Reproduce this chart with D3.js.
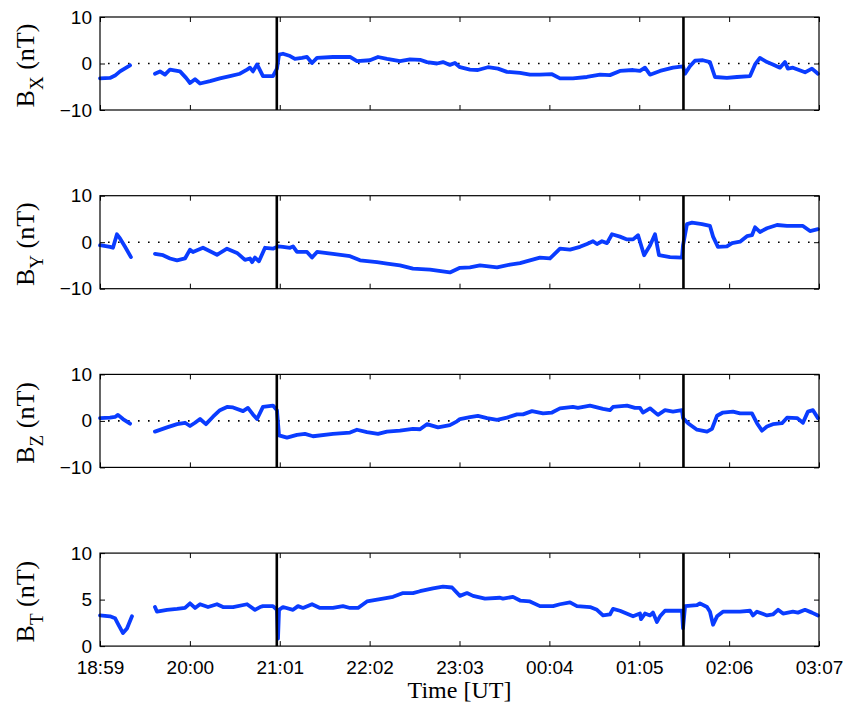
<!DOCTYPE html>
<html>
<head>
<meta charset="utf-8">
<script src="https://cdn.jsdelivr.net/npm/d3@7"></script>
<style>
body { margin: 0; background: #fff; }
</style>
</head>
<body>
<svg id="chart"></svg>
<script>
// time ticks (UT), start of the interval is 18:59
const tickLabels = ["18:59", "20:00", "21:01", "22:02", "23:03", "00:04", "01:05", "02:06", "03:07"];
// boundaries marked with vertical lines
const eventTimes = ["20:59", "01:35"];

// [minutes after 18:59, nT], null marks the data gap
const bxData = [
  [0,-3.2],[6.8,-3.1],[10.2,-2.6],[13.6,-1.7],[20.4,-0.4],[28,null],
  [37.3,-2.2],[40.7,-1.7],[44.1,-2.4],[47.5,-1.3],[54.3,-1.7],[58.4,-3.1],[61.1,-4.2],[64.5,-3.4],
  [67.9,-4.3],[74.7,-3.8],[81.4,-3.2],[88.2,-2.7],[95,-2.2],[99.8,-1.3],[101.8,-0.9],[103.8,-1.7],
  [106.6,-0.2],[110.6,-2.7],[117.4,-2.7],[120.1,-1.1],[121.5,1.9],[124.2,2.1],[129,1.6],[132.3,1.0],
  [137.1,1.2],[140.5,1.4],[143.9,0.1],[147.3,1.2],[158.1,1.4],[169.7,1.4],[174.4,0.5],[183.2,0.7],
  [188.7,1.4],[194.8,1.0],[203.6,0.5],[210.4,0.9],[217.2,0.8],[221.9,0.3],[228.7,0.0],[232.8,0.3],
  [237.5,-0.3],[240.9,0.1],[244.3,-0.8],[251.1,-1.3],[256.5,-1.4],[263.3,-0.8],[270.1,-1.1],
  [276.2,-1.8],[285.1,-2.0],[291.8,-2.4],[298.6,-2.4],[306.8,-2.3],[312.2,-3.2],[321,-3.2],
  [330.5,-2.9],[339.4,-2.4],[346.1,-2.5],[352.9,-1.6],[361.8,-1.4],[366.5,-1.6],[369.9,-0.9],
  [373.3,-2.4],[380.1,-1.6],[388.9,-0.9],[395.7,-0.6],[397.1,-2.2],[400.4,-0.6],[403.8,0.6],
  [409.2,0.7],[414,0.3],[417.4,-2.9],[425.5,-3.1],[432.3,-2.9],[441.2,-2.7],[444.6,-0.2],[447.9,1.2],
  [452.7,0.3],[456.7,-0.2],[461.5,-0.9],[464.9,0.3],[466.9,-1.1],[470.3,-0.9],[478.5,-1.9],
  [483.2,-1.1],[487.3,-2.2]
];

const byData = [
  [0,-0.65],[6.8,-1.0],[8.8,-1.2],[11.5,1.7],[13.6,0.8],[17,-1.0],[21,-3.2],[28,null],
  [37.3,-2.5],[42.8,-2.8],[47.5,-3.5],[52.3,-3.9],[57.7,-3.5],[61.1,-1.6],[63.1,-2.1],[69.9,-1.2],
  [79.4,-2.7],[86.2,-1.4],[93,-2.3],[98.4,-3.8],[101.8,-3.5],[103.2,-4.3],[105.2,-3.3],[107.9,-4.1],
  [112,-1.2],[117.4,-1.4],[120.8,-0.9],[124.2,-1.0],[129,-1.2],[131,-0.9],[133.7,-2.1],[140.5,-2.1],
  [143.9,-3.3],[147.3,-2.1],[158.1,-2.5],[169.7,-3.0],[176.5,-3.9],[188,-4.3],[194.8,-4.6],
  [203.6,-5.0],[212.4,-5.7],[224,-5.9],[237.5,-6.5],[244.3,-5.5],[251.1,-5.4],[257.9,-5.0],
  [269.5,-5.4],[278.3,-4.8],[285.1,-4.5],[291.8,-3.9],[298.6,-3.3],[305.4,-3.5],[312.2,-1.4],
  [319,-1.6],[325.8,-1.0],[330.5,-0.4],[334.6,0.2],[337.3,-0.4],[340.7,0.2],[344.1,-0.2],
  [347.5,1.7],[352.9,1.2],[357.7,0.6],[361.8,0.6],[365.2,1.5],[369.3,-2.8],[373.3,-0.7],
  [376.7,1.7],[379.4,-2.8],[386.9,-3.2],[395,-3.3],[395.7,-0.7],[398.4,3.9],[401.8,4.2],
  [408.6,3.9],[414,3.5],[416.1,1.2],[419.4,-1.0],[425.5,-0.9],[429,-0.2],[434.4,0.1],[439.1,1.3],
  [442.5,1.5],[444.6,3.2],[447.9,2.2],[452.7,3.0],[459.5,3.7],[466.3,3.5],[477.1,3.5],[481.9,2.4],
  [487.3,2.8]
];

const bzData = [
  [0,0.6],[6.8,0.7],[10.2,0.85],[12.2,1.3],[15.6,0.4],[20.4,-0.6],[28,null],
  [37.3,-2.3],[45.5,-1.4],[52.3,-0.7],[57.7,-0.4],[61.1,-1.1],[64.5,-0.4],[67.9,0.4],[71.9,-0.7],
  [76.7,0.9],[81.4,2.3],[86.2,3.0],[90.3,2.9],[97.1,2.1],[100.4,2.8],[103.8,1.4],[106.6,0.4],
  [110.6,3.0],[117.4,3.3],[120.1,2.3],[121.5,-3.1],[126.9,-3.6],[133.7,-3.0],[139.1,-2.8],
  [144.6,-3.3],[158.1,-2.8],[169.7,-2.5],[174.4,-1.9],[181.2,-2.4],[188.7,-2.8],[194.8,-2.3],
  [203.6,-2.1],[212.4,-1.7],[217.2,-1.8],[221.9,-0.7],[229.4,-1.4],[237.5,-0.9],[242.3,-0.1],
  [244.3,0.4],[251.1,0.8],[256.5,1.1],[262.7,0.6],[269.5,0.2],[276.2,0.7],[283,1.4],[287.1,1.4],
  [293.2,2.1],[300.7,1.6],[306.8,1.8],[312.2,2.7],[321,3.0],[324.4,2.8],[332.6,3.3],[341.4,2.6],
  [346.1,2.3],[348.2,3.0],[357.7,3.3],[363.1,2.8],[366.5,2.8],[368.5,1.8],[373.3,2.7],[378.7,1.3],
  [383.5,2.3],[388.9,2.0],[395,2.3],[395.7,0.6],[399.1,-0.5],[405.2,-1.9],[412,-2.3],[415.4,-1.7],
  [418.8,1.1],[422.8,1.8],[429.6,2.0],[434.4,1.6],[442.5,1.6],[445.9,-0.5],[449.3,-2.1],
  [452.7,-1.2],[456.7,-0.7],[462.9,-0.5],[466.3,0.7],[473.1,0.6],[477.1,-0.4],[480.5,2.0],
  [483.9,2.3],[487.3,0.6]
];

const btData = [
  [0,3.3],[6.8,3.2],[10.2,3.0],[12.2,2.4],[15.6,1.4],[18.3,1.9],[21.7,3.2],[28,null],
  [37.3,4.2],[38.7,3.7],[45.5,3.9],[52.3,4.0],[57.7,4.1],[61.1,4.6],[64.5,4.1],[67.9,4.5],
  [73.3,4.2],[79.4,4.5],[83.5,4.2],[90.3,4.2],[99.8,4.5],[105.2,3.9],[108.6,4.2],[110.6,4.3],
  [117.4,4.3],[120.1,3.9],[120.8,0.8],[121.5,3.9],[124.2,4.2],[131,3.9],[134.4,4.3],[137.8,4.1],
  [143.9,4.5],[149.3,4.1],[158.1,4.1],[164.9,4.3],[169.7,4.1],[175.1,4.1],[181.2,4.8],[192.1,5.1],
  [198.9,5.3],[205.7,5.7],[212.4,5.7],[217.2,5.9],[226,6.2],[232.8,6.4],[238.9,6.3],[244.3,5.4],
  [249.1,5.7],[253.2,5.4],[261.3,5.1],[271.5,5.2],[273.5,5.1],[280.3,5.3],[285.1,4.9],[291.8,4.8],
  [298.6,4.3],[307.5,4.3],[312.2,4.5],[319,4.7],[323.7,4.3],[332.6,4.2],[337.3,3.9],[341.4,3.3],
  [346.1,3.4],[348.2,4.0],[352.9,3.8],[361.8,3.2],[366.5,3.5],[367.2,2.9],[369.9,3.5],[373.3,3.3],
  [375.3,3.6],[378,2.6],[380.1,3.2],[383.5,3.8],[395,3.8],[395.7,1.9],[397.1,4.3],[405.2,4.4],
  [407.2,4.6],[412,4.2],[414,3.7],[416.1,2.3],[418.8,3.2],[422.8,3.7],[434.4,3.7],[441.2,3.8],
  [443.2,3.3],[445.9,3.7],[452.7,3.3],[456.7,3.4],[460.2,3.9],[463.6,3.5],[470.3,3.7],[473.7,3.6],
  [478.5,3.9],[483.2,3.6],[487.3,3.3]
];

const panelLabels = ["X", "Y", "Z", "T"];
const panelSeries = [bxData, byData, bzData, btData];
const panelDomains = [[-10, 10], [-10, 10], [-10, 10], [0, 10]];
const panelTicks = [[-10, 0, 10], [-10, 0, 10], [-10, 0, 10], [0, 5, 10]];

const width = 847, height = 702;
const left = 100, right = 819;
const panelTop = 17, panelStep = 178.7, panelHeight = 93;
const lineColor = "#0a3cff";
const sansFont = "'Liberation Sans', Helvetica, Arial, sans-serif";
const serifFont = "'Liberation Serif', 'Times New Roman', serif";

function toMinutes(s) {
    const [h, m] = s.split(":").map(Number);
    let v = h * 60 + m - (18 * 60 + 59);
    if (v < 0) v += 1440;
    return v;
}

const svg = d3.select("#chart")
    .attr("width", width)
    .attr("height", height)
    .style("font-family", sansFont);

const x = d3.scaleLinear()
    .domain([0, toMinutes(tickLabels[tickLabels.length - 1])])
    .range([left, right]);

const tickValues = tickLabels.map(toMinutes);
const tickText = new Map(tickValues.map((v, i) => [v, tickLabels[i]]));

panelSeries.forEach((data, i) => {
    const top = panelTop + i * panelStep;
    const bottom = top + panelHeight;
    const isLast = i === panelSeries.length - 1;

    const y = d3.scaleLinear()
        .domain(panelDomains[i])
        .range([bottom, top]);

    const g = svg.append("g");

    // dotted zero reference for the components
    if (panelDomains[i][0] < 0) {
        g.append("line")
            .attr("x1", left).attr("x2", right)
            .attr("y1", y(0)).attr("y2", y(0))
            .attr("stroke", "#000")
            .attr("stroke-width", 1.6)
            .attr("stroke-dasharray", "1.6 8.4")
            .attr("stroke-dashoffset", -8);
    }

    const line = d3.line()
        .defined(d => d[1] !== null)
        .x(d => x(d[0]))
        .y(d => y(d[1]));

    g.append("path")
        .datum(data)
        .attr("d", line)
        .attr("fill", "none")
        .attr("stroke", lineColor)
        .attr("stroke-width", 3.8)
        .attr("stroke-linejoin", "round")
        .attr("stroke-linecap", "round");

    // axes, ticks pointing inward on all sides
    const yLeft = d3.axisLeft(y).tickValues(panelTicks[i])
        .tickSizeInner(-5).tickSizeOuter(0).tickPadding(8)
        .tickFormat(d => d < 0 ? "\u2212" + Math.abs(d) : d);
    const yRight = d3.axisRight(y).tickValues(panelTicks[i])
        .tickSizeInner(-5).tickSizeOuter(0).tickFormat("");
    const xTop = d3.axisTop(x).tickValues(tickValues)
        .tickSizeInner(-5).tickSizeOuter(0).tickFormat("");
    const xBottom = d3.axisBottom(x).tickValues(tickValues)
        .tickSizeInner(-5).tickSizeOuter(0).tickPadding(14)
        .tickFormat(d => isLast ? tickText.get(d) : "");

    g.append("g").attr("transform", `translate(${left},0)`).call(yLeft);
    g.append("g").attr("transform", `translate(${right},0)`).call(yRight);
    g.append("g").attr("transform", `translate(0,${top})`).call(xTop);
    g.append("g").attr("transform", `translate(0,${bottom})`).call(xBottom);

    g.selectAll(".domain").remove();
    g.selectAll(".tick line").attr("stroke", "#000");
    g.selectAll(".tick text")
        .attr("fill", "#000")
        .style("font-family", sansFont)
        .style("font-size", "19px");

    // event boundaries
    g.selectAll(".event")
        .data(eventTimes)
        .join("line")
        .attr("class", "event")
        .attr("x1", d => x(toMinutes(d))).attr("x2", d => x(toMinutes(d)))
        .attr("y1", top).attr("y2", bottom)
        .attr("stroke", "#000")
        .attr("stroke-width", 2.6);

    g.append("rect")
        .attr("x", left).attr("y", top)
        .attr("width", right - left).attr("height", panelHeight)
        .attr("fill", "none")
        .attr("stroke", "#000")
        .attr("stroke-width", 1.2);

    // y label: B with subscript, rotated
    const label = g.append("text")
        .attr("transform", `translate(34,${(top + bottom) / 2 + 2}) rotate(-90)`)
        .attr("text-anchor", "middle")
        .style("font-family", serifFont)
        .style("font-size", "26px")
        .attr("fill", "#000");
    label.append("tspan").text("B");
    label.append("tspan").attr("dy", 9).style("font-size", "19px").text(panelLabels[i]);
    label.append("tspan").attr("dy", -9).text("\u00a0(nT)");
});

svg.append("text")
    .attr("x", (left + right) / 2)
    .attr("y", 698)
    .attr("text-anchor", "middle")
    .style("font-family", serifFont)
    .style("font-size", "24px")
    .attr("fill", "#000")
    .text("Time [UT]");
</script>
</body>
</html>
